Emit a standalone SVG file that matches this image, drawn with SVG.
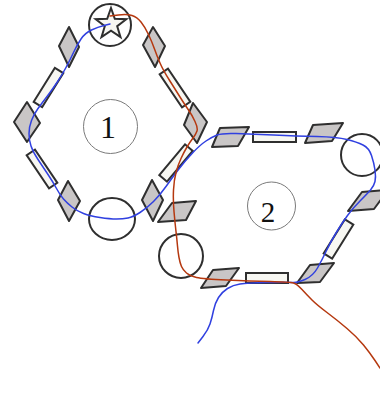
<svg xmlns="http://www.w3.org/2000/svg" width="380" height="394" viewBox="0 0 380 394">
<style>
.dia{fill:#c9c6c6;stroke:#2f2f2f;stroke-width:2;stroke-linejoin:round}
.rec{fill:#f7f7f2;stroke:#2f2f2f;stroke-width:2}
.cir{fill:none;stroke:#2f2f2f;stroke-width:2}
.lab{fill:#fff;stroke:#7a7a7a;stroke-width:1}
.txt{font-family:"Liberation Serif","Times New Roman",serif;fill:#111;text-anchor:middle}
.line{fill:none;stroke-width:1.5;stroke-linejoin:round;stroke-linecap:round}
</style>
<rect width="380" height="394" fill="#fff"/>
<g id="ring1">
  <g id="label1"><circle class="lab" cx="110.5" cy="126.5" r="27"/><text class="txt" x="108" y="138" font-size="32">1</text></g>
  <g id="star-node"><circle class="cir" cx="110" cy="25" r="21"/>
    <polygon class="rec" points="111,8 114.8,18.8 126.3,19.2 117.2,26.2 120.5,37.1 111,30.7 101.5,37.1 104.8,26.2 95.7,19.2 107.2,18.8"/></g>
  <g id="d1"><polygon class="dia" points="69,27 79,47 69,67 59,46"/></g>
  <g id="r1"><rect class="rec" x="-20" y="-5" width="40" height="10" transform="translate(48.5,87.5) rotate(-58)"/></g>
  <g id="d2"><polygon class="dia" points="27,102 40,123 27,142 14,122"/></g>
  <g id="r2"><rect class="rec" x="-20" y="-5" width="40" height="10" transform="translate(42,169) rotate(56)"/></g>
  <g id="d3"><polygon class="dia" points="68,181 80,201 69,221 58,200"/></g>
  <g id="c1"><ellipse class="cir" cx="112" cy="219" rx="23" ry="21"/></g>
  <g id="d4"><polygon class="dia" points="152,180 163,200 153,221 142,200"/></g>
  <g id="r3"><rect class="rec" x="-20" y="-5" width="40" height="10" transform="translate(176,163) rotate(-50)"/></g>
  <g id="d5"><polygon class="dia" points="193,103 207,122 197,143 184,125"/></g>
  <g id="r4"><rect class="rec" x="-20" y="-5" width="40" height="10" transform="translate(175,88) rotate(56)"/></g>
  <g id="d6"><polygon class="dia" points="153,27 165,46 155,67 143,45"/></g>
</g>
<g id="ring2">
  <g id="label2"><circle class="lab" cx="271.5" cy="206" r="24"/><text class="txt" x="268" y="222" font-size="29">2</text></g>
  <g id="p1"><polygon class="dia" points="220,128 249,127 238,146 212,147"/></g>
  <g id="r5"><rect class="rec" x="253" y="132" width="43" height="10"/></g>
  <g id="p2"><polygon class="dia" points="313,125 343,123 332,141 305,143"/></g>
  <g id="c2"><circle class="cir" cx="362" cy="155" r="21"/></g>
  <g id="p3"><polygon class="dia" points="362,192 388,190 374,209 348,211"/></g>
  <g id="r6"><rect class="rec" x="-20" y="-5" width="40" height="10" transform="translate(338.5,239) rotate(-58)"/></g>
  <g id="p4"><polygon class="dia" points="310,265 334,263 320,282 297,283"/></g>
  <g id="r7"><rect class="rec" x="246" y="273" width="42" height="10"/></g>
  <g id="p5"><polygon class="dia" points="213,270 239,268 226,286 201,288"/></g>
  <g id="c3"><circle class="cir" cx="181" cy="256" r="22"/></g>
  <g id="p6"><polygon class="dia" points="172,203 196,201 186,220 158,222"/></g>
</g>
<g id="connectors">
  <path class="line" stroke="#3040e0" d="M110,24 L104,25.5 Q98,27 91.5,30 Q85,33 81,39 Q77,45 73.5,52.5 Q70,60 66,67.5 Q62,75 57,82.5 Q52,90 47,96.5 Q42,103 38,108.5 Q34,114 31.5,120.5 Q29,127 29,133.5 Q29,140 31,146 Q33,152 38,159.5 Q43,167 48,174.5 Q53,182 56.5,188.5 Q60,195 63.5,199 Q67,203 72,207 Q77,211 83.5,213.5 Q90,216 100,217.5 Q110,219 116.5,219 Q123,219 128,218 Q133,217 140,212.5 Q147,208 153.5,201.5 Q160,195 166,186.5 Q172,178 178.5,169.5 Q185,161 192.5,153 Q200,145 206,141 Q212,137 217,135 Q222,133 236,133.5 Q250,134 273.5,135 Q297,136 317,136.5 Q337,137 347,139.5 Q357,142 363,145 Q369,148 371.5,155.5 Q374,163 375,170 Q376,177 375,181.5 Q374,186 370.5,190 Q367,194 360,201 Q353,208 347.5,215.5 Q342,223 336,233 Q330,243 326,251.5 Q322,260 317.5,268 Q313,276 305,279.5 Q297,283 292.5,282.5 Q288,282 267.5,282.5 Q247,283 240,284 Q233,285 227.5,288.5 Q222,292 218.5,297.5 Q215,303 213.5,310.5 Q212,318 210,324 Q208,330 203,336.5 L198,343"/>
  <path class="line" stroke="#b5380f" d="M110,16 L118.5,15 Q127,14 132,15.5 Q137,17 141,22 Q145,27 148.5,34.5 Q152,42 154.5,49 Q157,56 160,63 Q163,70 169,79.5 Q175,89 180,97 Q185,105 188.5,110 Q192,115 195,121.5 Q198,128 197,131 Q196,134 193,138 Q190,142 187,147 Q184,152 181,158.5 Q178,165 176,172.5 Q174,180 173.5,190 Q173,200 174,211.5 Q175,223 176,231.5 Q177,240 177.5,246 Q178,252 179,257.5 Q180,263 181.5,266.5 Q183,270 186.5,273 Q190,276 196.5,277.5 Q203,279 226.5,280 Q250,281 270,281.5 Q290,282 293.5,283 Q297,284 302,289.5 Q307,295 312,300 Q317,305 327,312.5 Q337,320 347,328.5 Q357,337 363.5,345 Q370,353 375,360.5 L380,368"/>
</g>
</svg>
